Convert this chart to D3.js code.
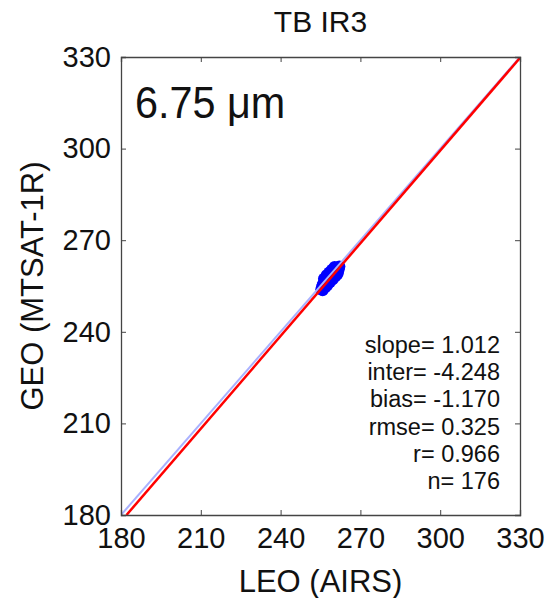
<!DOCTYPE html>
<html>
<head>
<meta charset="utf-8">
<script src="https://cdnjs.cloudflare.com/ajax/libs/d3/7.8.5/d3.min.js"></script>
<style>
  body { margin: 0; background: #fff; }
  text { font-family: "Liberation Sans", Arial, sans-serif; fill: #111; }
</style>
</head>
<body>
<script>
const w = 552;
const h = 598;

// chart values
const ticks = [180, 210, 240, 270, 300, 330];
const leo = [255.3, 255.6, 255.9, 256.1, 256.4, 256.6, 256.9, 257.2, 257.4, 257.7,
             257.9, 258.2, 258.4, 258.7, 258.9, 259.2, 259.5, 259.7, 260.0, 260.2,
             260.5, 260.8, 261.0, 261.3, 261.6, 261.9, 262.1, 255.8, 256.8, 257.6,
             258.6, 259.6, 260.6, 261.4, 256.3, 257.3, 258.3, 259.3, 260.3];
const geo = [253.9, 254.8, 255.6, 254.5, 255.9, 256.8, 255.2, 256.4, 257.6, 256.0,
             257.2, 258.3, 256.7, 257.9, 258.8, 257.3, 258.5, 259.6, 258.1, 259.2,
             260.3, 258.9, 260.0, 261.0, 259.7, 260.6, 261.4, 253.6, 254.6, 255.3,
             256.3, 257.2, 258.2, 258.9, 257.4, 258.5, 259.4, 260.3, 261.2];
const statLabels = ["slope= 1.012", "inter= -4.248", "bias= -1.170", "rmse= 0.325", "r= 0.966", "n= 176"];
const slope = 1.012;
const inter = -4.248;

const m = {left: 121, right: 32, top: 57, bottom: 83};
const pw = w - m.left - m.right;
const ph = h - m.top - m.bottom;

let svg = d3.select("body")
            .append("svg")
            .attr("width", w)
            .attr("height", h);

let x = d3.scaleLinear().domain([180, 330]).range([0, pw]);
let y = d3.scaleLinear().domain([180, 330]).range([ph, 0]);

let g = svg.append("g").attr("transform", `translate(${m.left},${m.top})`);

g.append("clipPath").attr("id", "clip")
 .append("rect").attr("width", pw).attr("height", ph);

let plot = g.append("g").attr("clip-path", "url(#clip)");

// scatter
plot.selectAll("circle")
    .data(leo.map((v, i) => [v, geo[i]]))
    .enter()
    .append("circle")
    .attr("cx", d => x(d[0]))
    .attr("cy", d => y(d[1]))
    .attr("r", 6)
    .attr("fill", "#0000ff");

// 1:1 line
plot.append("line")
    .attr("x1", x(180)).attr("y1", y(180))
    .attr("x2", x(330)).attr("y2", y(330))
    .attr("stroke", "#a9b1ff")
    .attr("stroke-width", 2);

// regression line
let x0 = (180 - inter) / slope;
plot.append("line")
    .attr("x1", x(x0)).attr("y1", y(slope * x0 + inter))
    .attr("x2", x(330)).attr("y2", y(slope * 330 + inter))
    .attr("stroke", "#ff0000")
    .attr("stroke-width", 2.5);

// axes (ticks inside, boxed)
const fs = "29px";
let xa = g.append("g").attr("transform", `translate(0,${ph})`)
          .call(d3.axisBottom(x).tickValues(ticks).tickSize(-5).tickPadding(12));
let ya = g.append("g")
          .call(d3.axisLeft(y).tickValues(ticks).tickSize(-5).tickPadding(10));
g.append("g").call(d3.axisTop(x).tickValues(ticks).tickSize(-5).tickFormat(""));
g.append("g").attr("transform", `translate(${pw},0)`)
 .call(d3.axisRight(y).tickValues(ticks).tickSize(-5).tickFormat(""));

g.selectAll(".domain").attr("stroke", "#444").attr("stroke-width", 1.3);
g.selectAll(".tick line").attr("stroke", "#444");
xa.selectAll("text").style("font-size", fs).attr("fill", "#111");
ya.selectAll("text").style("font-size", fs).attr("fill", "#111");

// title and labels
svg.append("text")
   .attr("x", m.left + pw / 2).attr("y", 32)
   .attr("text-anchor", "middle")
   .style("font-size", "30px")
   .text("TB IR3");

svg.append("text")
   .attr("x", m.left + pw / 2).attr("y", 592)
   .attr("text-anchor", "middle")
   .style("font-size", "31px")
   .text("LEO (AIRS)");

svg.append("text")
   .attr("transform", `translate(43,${m.top + ph / 2}) rotate(-90)`)
   .attr("text-anchor", "middle")
   .style("font-size", "31px")
   .text("GEO (MTSAT-1R)");

// wavelength
g.append("text")
   .attr("transform", "translate(14,61) scale(0.94,1)")
   .style("font-size", "44px")
   .text("6.75 \u03bcm");

// statistics
g.append("g").selectAll("text")
   .data(statLabels)
   .enter()
   .append("text")
   .attr("x", 379)
   .attr("y", (d, i) => 296 + i * 27.2)
   .attr("text-anchor", "end")
   .style("font-size", "23.5px")
   .text(d => d);
</script>
</body>
</html>
